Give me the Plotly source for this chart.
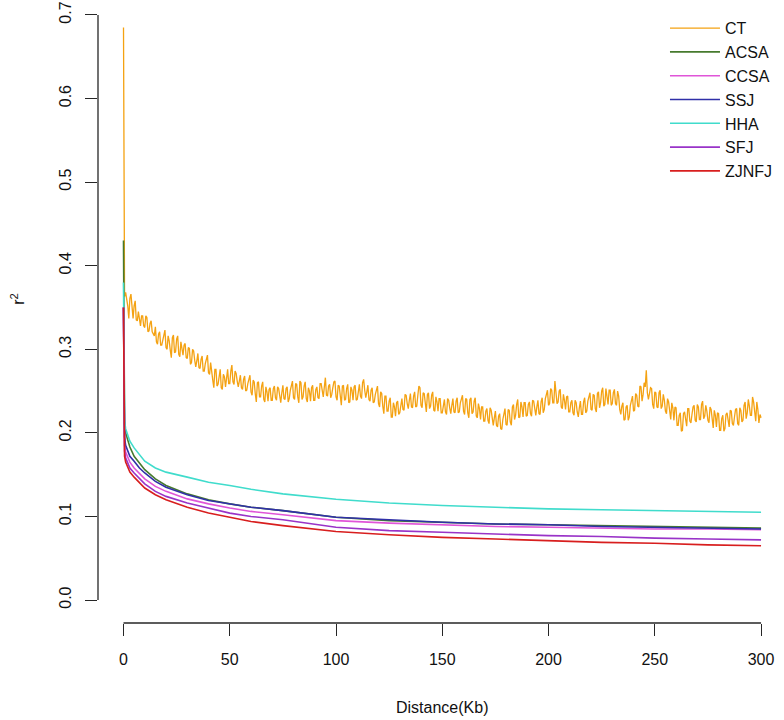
import plotly.graph_objects as go

# ---------------- data ----------------
SERIES = ["CT", "ACSA", "CCSA", "SSJ", "HHA", "SFJ", "ZJNFJ"]
COLORS = ["#F4A212", "#467A2E", "#E055D8", "#3030A8", "#40DCCC", "#9933C8", "#D81E1E"]

# CT: values at whole kb (0..300) ...
CT_DIST = list(range(0, 301))
CT_R2 = [
    0.685,
    0.368, 0.352, 0.361, 0.344, 0.352, 0.335, 0.345, 0.328, 0.340, 0.326,
    0.338, 0.322, 0.334, 0.318, 0.327, 0.306, 0.321, 0.305, 0.318, 0.302,
    0.316, 0.299, 0.314, 0.296, 0.312, 0.294, 0.309, 0.293, 0.307, 0.289,
    0.301, 0.284, 0.298, 0.279, 0.295, 0.277, 0.292, 0.274, 0.289, 0.272,
    0.284, 0.263, 0.276, 0.256, 0.271, 0.254, 0.270, 0.255, 0.276, 0.259,
    0.281, 0.258, 0.271, 0.255, 0.269, 0.252, 0.268, 0.251, 0.265, 0.249,
    0.263, 0.247, 0.260, 0.243, 0.256, 0.240, 0.255, 0.238, 0.254, 0.239,
    0.256, 0.239, 0.253, 0.236, 0.257, 0.240, 0.255, 0.241, 0.258, 0.242,
    0.259, 0.243, 0.262, 0.240, 0.256, 0.241, 0.254, 0.238, 0.257, 0.239,
    0.255, 0.241, 0.259, 0.243, 0.266, 0.244, 0.258, 0.246, 0.261, 0.243,
    0.257, 0.240, 0.256, 0.239, 0.253, 0.236, 0.255, 0.239, 0.257, 0.240,
    0.258, 0.241, 0.264, 0.242, 0.257, 0.238, 0.254, 0.237, 0.252, 0.235,
    0.249, 0.232, 0.244, 0.226, 0.238, 0.219, 0.236, 0.220, 0.238, 0.224,
    0.241, 0.227, 0.245, 0.229, 0.247, 0.230, 0.249, 0.232, 0.256, 0.233,
    0.248, 0.231, 0.246, 0.229, 0.245, 0.227, 0.243, 0.226, 0.241, 0.224,
    0.240, 0.222, 0.239, 0.223, 0.241, 0.224, 0.242, 0.225, 0.240, 0.226,
    0.241, 0.224, 0.240, 0.223, 0.238, 0.220, 0.235, 0.216, 0.231, 0.214,
    0.229, 0.211, 0.227, 0.209, 0.226, 0.207, 0.223, 0.204, 0.225, 0.210,
    0.228, 0.213, 0.231, 0.216, 0.234, 0.218, 0.237, 0.219, 0.236, 0.221,
    0.237, 0.220, 0.238, 0.221, 0.239, 0.222, 0.242, 0.228, 0.248, 0.233,
    0.253, 0.236, 0.262, 0.235, 0.250, 0.231, 0.246, 0.228, 0.244, 0.225,
    0.239, 0.221, 0.236, 0.219, 0.238, 0.222, 0.242, 0.226, 0.245, 0.228,
    0.246, 0.229, 0.247, 0.230, 0.250, 0.232, 0.253, 0.234, 0.251, 0.235,
    0.252, 0.233, 0.244, 0.222, 0.236, 0.216, 0.233, 0.219, 0.241, 0.226,
    0.247, 0.232, 0.256, 0.238, 0.260, 0.275, 0.240, 0.254, 0.234, 0.249,
    0.231, 0.248, 0.229, 0.246, 0.226, 0.241, 0.221, 0.236, 0.215, 0.230,
    0.209, 0.224, 0.203, 0.225, 0.208, 0.229, 0.212, 0.231, 0.215, 0.234,
    0.216, 0.234, 0.217, 0.233, 0.215, 0.231, 0.211, 0.227, 0.207, 0.223,
    0.203, 0.221, 0.205, 0.224, 0.207, 0.226, 0.209, 0.228, 0.211, 0.230,
    0.213, 0.233, 0.217, 0.240, 0.221, 0.243, 0.222, 0.237, 0.212, 0.218,
]
# ... and at the half-kb positions (0.5..299.5)
CT_HALF_DIST = [k + 0.5 for k in range(0, 300)]
CT_HALF_R2 = [
    0.363, 0.361, 0.337, 0.366, 0.337, 0.358, 0.334, 0.334, 0.340, 0.328,
    0.340, 0.321, 0.331, 0.321, 0.316, 0.309, 0.318, 0.305, 0.310, 0.323,
    0.300, 0.310, 0.290, 0.317, 0.297, 0.316, 0.291, 0.303, 0.305, 0.290,
    0.302, 0.282, 0.300, 0.287, 0.286, 0.278, 0.288, 0.274, 0.283, 0.293,
    0.270, 0.276, 0.254, 0.276, 0.258, 0.276, 0.252, 0.267, 0.271, 0.259,
    0.274, 0.261, 0.274, 0.262, 0.262, 0.254, 0.264, 0.250, 0.259, 0.269,
    0.245, 0.261, 0.237, 0.261, 0.243, 0.261, 0.237, 0.249, 0.252, 0.239,
    0.253, 0.242, 0.255, 0.245, 0.248, 0.241, 0.253, 0.237, 0.251, 0.262,
    0.240, 0.258, 0.236, 0.260, 0.243, 0.261, 0.237, 0.250, 0.254, 0.239,
    0.252, 0.242, 0.259, 0.251, 0.255, 0.245, 0.256, 0.242, 0.254, 0.262,
    0.239, 0.256, 0.233, 0.257, 0.240, 0.258, 0.237, 0.251, 0.255, 0.239,
    0.253, 0.244, 0.260, 0.251, 0.249, 0.240, 0.251, 0.236, 0.246, 0.256,
    0.231, 0.247, 0.223, 0.244, 0.226, 0.242, 0.219, 0.231, 0.236, 0.222,
    0.237, 0.228, 0.246, 0.235, 0.239, 0.231, 0.244, 0.231, 0.245, 0.254,
    0.230, 0.247, 0.225, 0.248, 0.232, 0.249, 0.226, 0.237, 0.241, 0.224,
    0.236, 0.225, 0.241, 0.230, 0.233, 0.225, 0.238, 0.224, 0.236, 0.245,
    0.222, 0.240, 0.218, 0.242, 0.225, 0.242, 0.218, 0.229, 0.231, 0.214,
    0.226, 0.215, 0.230, 0.217, 0.218, 0.209, 0.220, 0.205, 0.216, 0.229,
    0.209, 0.227, 0.209, 0.234, 0.221, 0.240, 0.219, 0.231, 0.236, 0.220,
    0.234, 0.223, 0.239, 0.228, 0.231, 0.223, 0.237, 0.224, 0.241, 0.251,
    0.235, 0.251, 0.236, 0.252, 0.237, 0.252, 0.229, 0.239, 0.243, 0.225,
    0.236, 0.224, 0.239, 0.225, 0.230, 0.222, 0.237, 0.224, 0.238, 0.248,
    0.227, 0.245, 0.225, 0.249, 0.236, 0.254, 0.234, 0.246, 0.251, 0.233,
    0.248, 0.235, 0.250, 0.228, 0.232, 0.215, 0.231, 0.215, 0.233, 0.244,
    0.227, 0.245, 0.231, 0.255, 0.246, 0.255, 0.248, 0.247, 0.253, 0.229,
    0.248, 0.230, 0.251, 0.232, 0.239, 0.223, 0.237, 0.216, 0.230, 0.231,
    0.209, 0.221, 0.202, 0.223, 0.214, 0.229, 0.214, 0.222, 0.233, 0.213,
    0.231, 0.216, 0.238, 0.220, 0.226, 0.212, 0.228, 0.206, 0.221, 0.224,
    0.203, 0.217, 0.202, 0.222, 0.213, 0.227, 0.211, 0.219, 0.229, 0.209,
    0.227, 0.215, 0.237, 0.224, 0.232, 0.221, 0.237, 0.214, 0.228, 0.222,
]

# smooth populations: sampled distances (kb)
DIST = [0, 0.2, 0.5, 1, 2, 3, 5, 7.5, 10, 15, 20, 30, 40, 50, 60, 75,
        100, 125, 150, 175, 200, 225, 250, 275, 300]
ACSA = [0.43, 0.24, 0.21, 0.200, 0.190, 0.183, 0.172, 0.164, 0.156, 0.145, 0.137,
        0.127, 0.120, 0.115, 0.111, 0.107, 0.099, 0.095, 0.093, 0.091, 0.090,
        0.089, 0.088, 0.087, 0.086]
CCSA = [0.35, 0.21, 0.185, 0.177, 0.170, 0.165, 0.158, 0.151, 0.145, 0.136, 0.130,
        0.121, 0.115, 0.110, 0.106, 0.102, 0.095, 0.092, 0.090, 0.088, 0.087,
        0.086, 0.085, 0.085, 0.084]
SSJ = [0.35, 0.22, 0.195, 0.185, 0.178, 0.172, 0.166, 0.158, 0.152, 0.142, 0.135,
       0.126, 0.119, 0.115, 0.111, 0.107, 0.099, 0.096, 0.093, 0.091, 0.090,
       0.088, 0.087, 0.086, 0.085]
HHA = [0.38, 0.25, 0.215, 0.205, 0.197, 0.190, 0.182, 0.174, 0.166, 0.158, 0.153,
       0.147, 0.141, 0.137, 0.1325, 0.127, 0.1205, 0.116, 0.113, 0.111, 0.109,
       0.108, 0.107, 0.106, 0.105]
SFJ = [0.35, 0.20, 0.178, 0.170, 0.163, 0.158, 0.152, 0.145, 0.139, 0.130, 0.124,
       0.116, 0.110, 0.104, 0.100, 0.096, 0.087, 0.083, 0.081, 0.079, 0.077,
       0.076, 0.074, 0.073, 0.072]
ZJNFJ = [0.35, 0.195, 0.172, 0.165, 0.158, 0.153, 0.147, 0.140, 0.134, 0.126, 0.120,
         0.111, 0.104, 0.099, 0.094, 0.089, 0.082, 0.078, 0.075, 0.073, 0.071,
         0.069, 0.068, 0.066, 0.065]

X_TICKS = [0, 50, 100, 150, 200, 250, 300]
Y_TICKS = [0.0, 0.1, 0.2, 0.3, 0.4, 0.5, 0.6, 0.7]
Y_TICK_TEXT = ["0.0", "0.1", "0.2", "0.3", "0.4", "0.5", "0.6", "0.7"]
X_TITLE = "Distance(Kb)"
Y_TITLE = "r<sup>2</sup>"

# ---------------- figure ----------------
FONT = "Liberation Sans, Arial, sans-serif"
AXIS_COLOR = "#262626"

ct_pairs = sorted(zip(CT_DIST + CT_HALF_DIST, CT_R2 + CT_HALF_R2))
series_data = {
    "CT": ([p[0] for p in ct_pairs], [p[1] for p in ct_pairs]),
    "ACSA": (DIST, ACSA),
    "CCSA": (DIST, CCSA),
    "SSJ": (DIST, SSJ),
    "HHA": (DIST, HHA),
    "SFJ": (DIST, SFJ),
    "ZJNFJ": (DIST, ZJNFJ),
}

fig = go.Figure()
for name, color in zip(SERIES, COLORS):
    xs, ys = series_data[name]
    fig.add_trace(go.Scatter(
        x=xs, y=ys, mode="lines", name=name,
        line=dict(color=color, width=1.6 if name != "CT" else 1.3),
    ))

fig.update_layout(
    width=784, height=720,
    margin=dict(l=98, r=0, t=0, b=97),
    paper_bgcolor="white", plot_bgcolor="white",
    font=dict(family=FONT, size=16, color="#111"),
    showlegend=True,
    legend=dict(
        x=0.8265, y=0.982, xanchor="left", yanchor="top",
        bgcolor="rgba(0,0,0,0)", borderwidth=0,
        font=dict(family=FONT, size=16, color="#111"),
        tracegroupgap=0, itemwidth=50,
    ),
    xaxis=dict(
        range=[-12, 310.8], showgrid=False, zeroline=False, showline=False,
        tickmode="array", tickvals=X_TICKS,
        ticks="outside", ticklen=12, tickwidth=1.3, tickcolor=AXIS_COLOR,
        ticklabelstandoff=10,
        tickfont=dict(family=FONT, size=16, color="#111"),
    ),
    yaxis=dict(
        range=[-0.0275, 0.7179], showgrid=False, zeroline=False, showline=False,
        tickmode="array", tickvals=Y_TICKS, ticktext=Y_TICK_TEXT,
        ticks="outside", ticklen=12, tickwidth=1.3, tickcolor=AXIS_COLOR,
        tickangle=-90, ticklabelstandoff=8,
        tickfont=dict(family=FONT, size=16, color="#111"),
    ),
    shapes=[
        dict(type="line", xref="paper", yref="y", x0=0, x1=0, y0=Y_TICKS[0], y1=Y_TICKS[-1],
             line=dict(color=AXIS_COLOR, width=1.3)),
        dict(type="line", xref="x", yref="paper", x0=X_TICKS[0], x1=X_TICKS[-1], y0=0, y1=0,
             line=dict(color=AXIS_COLOR, width=1.3)),
    ],
    annotations=[
        dict(text=X_TITLE, xref="x", yref="paper", x=150, y=-0.135,
             xanchor="center", yanchor="middle", showarrow=False,
             font=dict(family=FONT, size=16, color="#111")),
        dict(text=Y_TITLE, xref="paper", yref="y", x=-0.117, y=0.36,
             xanchor="center", yanchor="middle", textangle=-90, showarrow=False,
             font=dict(family=FONT, size=16, color="#111")),
    ],
)

fig.write_html("out.html", config={"displayModeBar": False},
               post_script="document.body.style.margin='0px';")
